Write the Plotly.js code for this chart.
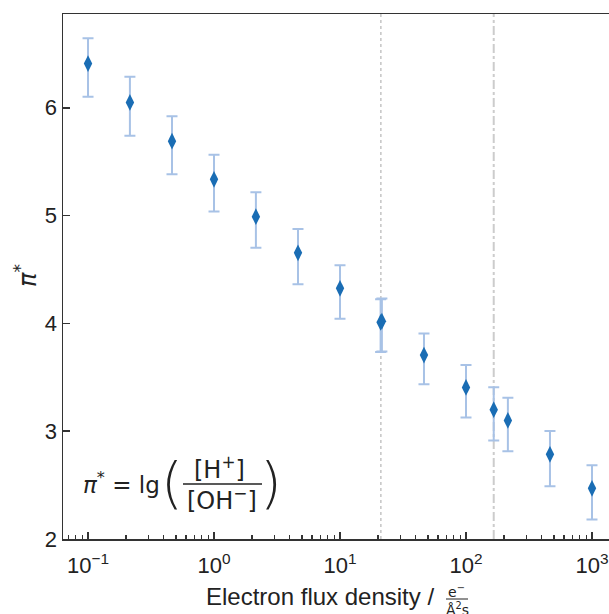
<!DOCTYPE html>
<html>
<head>
<meta charset="utf-8">
<script src="https://cdn.plot.ly/plotly-3.0.1.min.js"></script>
<style>
html,body{margin:0;padding:0;overflow:hidden;background:#fff;}
#chart{width:640px;height:625px;}
</style>
</head>
<body>
<div id="chart"></div>
<script>
// ---- data ----
const fluxDensity = [0.1, 0.215, 0.464, 1, 2.15, 4.64, 10, 21.0, 21.5, 46.4, 100, 166, 215, 464, 1000];
const piStar      = [6.41, 6.05, 5.69, 5.336, 4.99, 4.655, 4.325, 4.01, 4.02, 3.706, 3.406, 3.20, 3.10, 2.785, 2.47];
const errPlus     = [0.234, 0.238, 0.232, 0.228, 0.226, 0.22, 0.215, 0.215, 0.21, 0.20, 0.207, 0.207, 0.211, 0.216, 0.213];
const errMinus    = [0.308, 0.31, 0.306, 0.297, 0.289, 0.293, 0.282, 0.275, 0.28, 0.27, 0.28, 0.287, 0.287, 0.295, 0.288];
const refLinesX   = [21.1, 166];           // dotted, dash-dot
const xTickVals   = [0.1, 1, 10, 100, 1000];
const xTickText   = ['10<sup>−1</sup>', '10<sup>0</sup>', '10<sup>1</sup>', '10<sup>2</sup>', '10<sup>3</sup>'];
const yTickVals   = [2, 3, 4, 5, 6];
const yTickText   = ['2', '3', '4', '5', '6'];

// ---- layout helpers (pixel -> paper) ----
const L = 63, T = 14, R = 15, W = 640, H = 625, B = 86;
const pw = W - L - R, ph = H - T - B;
const px = x => (x - L) / pw;
const py = y => (H - B - y) / ph;

const mathFont = {family: 'DejaVu Sans', size: 23, color: '#222'};
const fracFont = {family: 'DejaVu Sans', size: 24, color: '#222'};
const labFont = {family: 'Liberation Sans, Arial, sans-serif', size: 24, color: '#222'};

const trace = {
  x: fluxDensity, y: piStar, type: 'scatter', mode: 'markers',
  marker: {symbol: 'diamond-tall', size: 12, color: '#1a6db4', line: {width: 0}},
  error_y: {type: 'data', symmetric: false, array: errPlus, arrayminus: errMinus,
            color: '#a8c2e6', thickness: 2, width: 5.5},
  showlegend: false, hoverinfo: 'x+y'
};

const ann = [
  // y-axis title
  {xref: 'paper', yref: 'paper', x: px(26), y: py(276), text: '<i>π</i><sup>*</sup>', showarrow: false,
   textangle: -90, font: {family: 'DejaVu Sans', size: 24, color: '#222'}, xanchor: 'center', yanchor: 'middle'},
  // x-axis title
  {xref: 'paper', yref: 'paper', x: px(436), y: py(596), text: 'Electron flux density /', showarrow: false,
   font: labFont, xanchor: 'right', yanchor: 'middle'},
  {xref: 'paper', yref: 'paper', x: px(456), y: py(591), text: 'e<sup>−</sup>', showarrow: false,
   font: {family: 'DejaVu Sans', size: 14, color: '#222'}, xanchor: 'center', yanchor: 'middle'},
  {xref: 'paper', yref: 'paper', x: px(457), y: py(609), text: 'Å<sup>2</sup>s', showarrow: false,
   font: {family: 'DejaVu Sans', size: 14, color: '#222'}, xanchor: 'center', yanchor: 'middle'},
  // formula
  {xref: 'paper', yref: 'paper', x: px(81), y: py(483), text: '<i>π</i><sup>*</sup> = lg', showarrow: false,
   font: mathFont, xanchor: 'left', yanchor: 'middle'},
  {xref: 'paper', yref: 'paper', x: px(172), y: py(482), text: '(', showarrow: false,
   font: {family: 'DejaVu Sans', size: 56, color: '#222', weight: 200}, xanchor: 'center', yanchor: 'middle'},
  {xref: 'paper', yref: 'paper', x: px(219), y: py(468), text: '[H<sup>+</sup>]', showarrow: false,
   font: fracFont, xanchor: 'center', yanchor: 'middle'},
  {xref: 'paper', yref: 'paper', x: px(222), y: py(499), text: '[OH<sup>−</sup>]', showarrow: false,
   font: fracFont, xanchor: 'center', yanchor: 'middle'},
  {xref: 'paper', yref: 'paper', x: px(271), y: py(482), text: ')', showarrow: false,
   font: {family: 'DejaVu Sans', size: 56, color: '#222', weight: 200}, xanchor: 'center', yanchor: 'middle'}
];

const shapes = [
  {type: 'line', xref: 'x', yref: 'paper', x0: refLinesX[0], x1: refLinesX[0], y0: 0, y1: 1,
   line: {color: '#c4c4c4', width: 1.5, dash: 'dot'}, layer: 'below'},
  {type: 'line', xref: 'x', yref: 'paper', x0: refLinesX[1], x1: refLinesX[1], y0: 0, y1: 1,
   line: {color: '#cccccc', width: 2, dash: 'dashdot'}, layer: 'below'},
  // fraction bars
  {type: 'line', xref: 'paper', yref: 'paper', x0: px(183), x1: px(262), y0: py(484), y1: py(484),
   line: {color: '#222', width: 1.3}},
  {type: 'line', xref: 'paper', yref: 'paper', x0: px(446), x1: px(468), y0: py(599), y1: py(599),
   line: {color: '#222', width: 1}}
];

const layout = {
  width: W, height: H,
  margin: {l: L, r: R, t: T, b: B},
  paper_bgcolor: '#fff', plot_bgcolor: '#fff',
  font: {family: 'Liberation Sans, Arial, sans-serif', size: 20, color: '#222'},
  xaxis: {
    type: 'log', range: [-1.1986, 3.262],
    tickmode: 'array', tickvals: xTickVals, ticktext: xTickText,
    ticks: 'inside', ticklen: 7, tickwidth: 1.5, tickcolor: '#333',
    ticklabelstandoff: 6,
    minor: {ticks: 'inside', ticklen: 4, tickwidth: 1.2, tickcolor: '#333', dtick: 'D1', showgrid: false},
    showline: true, linecolor: '#333', linewidth: 1.5, mirror: true,
    showgrid: false, zeroline: false,
    tickfont: {family: 'Liberation Sans, Arial, sans-serif', size: 22, color: '#222'}
  },
  yaxis: {
    range: [2, 6.87],
    tickmode: 'array', tickvals: yTickVals, ticktext: yTickText,
    ticks: 'inside', ticklen: 7, tickwidth: 1.5, tickcolor: '#333',
    showline: true, linecolor: '#333', linewidth: 1.5, mirror: true,
    showgrid: false, zeroline: false,
    tickfont: {family: 'Liberation Sans, Arial, sans-serif', size: 22, color: '#222'}
  },
  annotations: ann,
  shapes: shapes
};

Plotly.newPlot('chart', [trace], layout, {displayModeBar: false, staticPlot: true});
</script>
</body>
</html>
